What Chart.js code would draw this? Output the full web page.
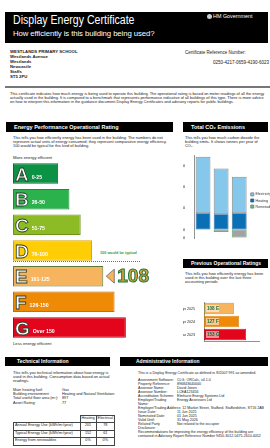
<!DOCTYPE html>
<html>
<head>
<meta charset="utf-8">
<script src="https://cdn.jsdelivr.net/npm/chart.js@4.4.1/dist/chart.umd.min.js"></script>
<style>
  body { margin:0; width:270px; height:448px; position:relative; background:#fff; overflow:hidden;
         font-family:'Liberation Sans', Arial, sans-serif; color:#222; }
  .abs { position:absolute; }
  .blk { position:absolute; background:#000; color:#fff; font-weight:bold; white-space:nowrap; }
  .small { font-size:3.9px; line-height:4.2px; }
  canvas { position:absolute; }
  table { border-collapse:collapse; }
  td { padding:0; vertical-align:top; }
  .et td { border:0.6px solid #444; padding:0 1px; height:6.4px; font-size:3.8px; }
</style>
</head>
<body>
<div class="blk" style="left:5px;top:12px;width:263px;height:31px;"></div>
<div class="abs" style="left:13px;top:13px;font-size:12px;color:#fff;white-space:nowrap;transform:scaleX(0.88);transform-origin:0 0;">Display Energy Certificate</div>
<div class="abs" style="left:13px;top:29px;font-size:7.8px;letter-spacing:-0.1px;color:#fff;">How efficiently is this building being used?</div>
<div class="abs" style="left:207px;top:13px;font-size:5.4px;color:#fff;white-space:nowrap;"><span style="display:inline-block;width:5px;height:5px;border-radius:50%;background:#ccc;vertical-align:-1px;margin-right:1px;"></span>HM Government</div>

<div class="abs" style="left:10px;top:50px;font-size:4.3px;line-height:4.9px;font-weight:bold;">
  WESTLANDS PRIMARY SCHOOL<br>Westlands Avenue<br>Westlands<br>Newcastle<br>Staffs<br>ST5 2PU<br>&nbsp;
</div>
<div class="abs" style="left:185px;top:50px;font-size:4.5px;line-height:5px;white-space:nowrap;">Certificate Reference Number:</div>
<div class="abs" style="left:213px;top:60px;font-size:4.5px;white-space:nowrap;">0250-4217-0659-4190-6023</div>
<div class="abs" style="left:5px;top:86px;width:265px;height:2px;background:#777;"></div>

<div class="abs small" style="left:10px;top:92px;width:258px;">This certificate indicates how much energy is being used to operate this building. The operational rating is based on meter readings of all the energy actually used in the building. It is compared to a benchmark that represents performance indicative of all buildings of this type. There is more advice on how to interpret this information in the guidance document Display Energy Certificates and advisory reports for public buildings.</div>

<div class="blk" style="left:6px;top:122px;width:159px;height:10px;line-height:10px;font-size:5.5px;padding-left:8px;">Energy Performance Operational Rating</div>
<div class="blk" style="left:183px;top:122px;width:77px;height:10px;line-height:10px;font-size:5.5px;padding-left:8px;">Total CO₂ Emissions</div>

<div class="abs small" style="left:13px;top:136px;width:160px;">This tells you how efficiently energy has been used in the building. The numbers do not represent actual units of energy consumed; they represent comparative energy efficiency. 100 would be typical for this kind of building.</div>
<div class="abs" style="left:13px;top:155px;font-size:4.2px;">More energy efficient</div>
<div class="abs" style="left:100px;top:251px;font-size:3.8px;font-weight:bold;color:#2e9b4a;white-space:nowrap;">100 would be typical</div>
<div class="abs" style="left:13px;top:261px;width:127px;border-top:1px dotted #2e9b4a;"></div>
<div class="abs" style="left:13px;top:341px;font-size:4.2px;">Less energy efficient</div>

<div class="abs small" style="left:185px;top:136px;width:80px;">This tells you how much carbon dioxide the building emits. It shows tonnes per year of CO₂.</div>

<div class="blk" style="left:183px;top:259px;width:77px;height:9px;line-height:9px;font-size:5px;padding-left:8px;">Previous Operational Ratings</div>
<div class="abs small" style="left:185px;top:272px;width:80px;">This tells you how efficiently energy has been used in this building over the last three accounting periods</div>

<canvas id="ratingChart" width="183" height="195" style="left:0;top:150px;"></canvas>
<canvas id="co2Chart" width="87" height="96" style="left:183px;top:150px;"></canvas>
<canvas id="prevChart" width="87" height="52" style="left:183px;top:298px;"></canvas>

<div class="blk" style="left:5px;top:357px;width:93px;height:9px;line-height:9px;font-size:5px;padding-left:12px;">Technical Information</div>
<div class="blk" style="left:120px;top:357px;width:132px;height:9px;line-height:9px;font-size:5px;padding-left:16px;">Administrative Information</div>

<div class="abs small" style="left:13px;top:371px;width:102px;">This tells you technical information about how energy is used in this building. Consumption data based on actual readings.</div>
<table class="abs" style="left:13px;top:388px;font-size:3.8px;line-height:4.2px;">
  <tr><td style="width:49px;">Main heating fuel:</td><td>Gas</td></tr>
  <tr><td>Building environment:</td><td>Heating and Natural Ventilation</td></tr>
  <tr><td>Total useful floor area (m²):</td><td>897</td></tr>
  <tr><td>Asset Rating:</td><td>77</td></tr>
</table>
<table class="abs et" style="left:13px;top:415px;width:102px;">
  <tr><td style="border:none;"></td><td style="width:13px;">Heating</td><td style="width:13px;">Electrical</td></tr>
  <tr><td>Annual Energy Use (kWh/m²/year)</td><td style="text-align:center;">201</td><td style="text-align:center;">78</td></tr>
  <tr><td>Typical Energy Use (kWh/m²/year)</td><td style="text-align:center;">152</td><td style="text-align:center;">61</td></tr>
  <tr><td>Energy from renewables</td><td style="text-align:center;">0%</td><td style="text-align:center;">0%</td></tr>
</table>

<div class="abs" style="left:138px;top:371px;width:130px;font-size:3.6px;line-height:4px;">
  This is a Display Energy Certificate as defined in SI2007:991 as amended.
  <table style="margin-top:3px;font-size:3.6px;line-height:4px;">
    <tr><td style="width:39px;">Assessment Software:</td><td>CLG, ORCalc, v4.1.0</td></tr>
    <tr><td>Property Reference:</td><td>896843640000</td></tr>
    <tr><td>Assessor Name:</td><td>David Jones</td></tr>
    <tr><td>Assessor Number:</td><td>LCEA123456</td></tr>
    <tr><td>Accreditation Scheme:</td><td>Elmhurst Energy Systems Ltd</td></tr>
    <tr><td>Employer/Trading Name:</td><td>Energy Assessors Ltd</td></tr>
    <tr><td colspan="2">Employer/Trading Address: 12 Market Street, Stafford, Staffordshire, ST16 2AB</td></tr>
    <tr><td>Issue Date:</td><td>11 Jun 2025</td></tr>
    <tr><td>Nominated Date:</td><td>01 Jun 2025</td></tr>
    <tr><td>Valid Until:</td><td>31 May 2026</td></tr>
    <tr><td>Related Party Disclosure:</td><td>Not related to the occupier</td></tr>
    <tr><td colspan="2">Recommendations for improving the energy efficiency of the building are contained in Advisory Report Reference Number 9450-3012-0475-2610-4052</td></tr>
  </table>
</div>

<script>
// rating bands (A..G)
const bandLetters = ['A', 'B', 'C', 'D', 'E', 'F', 'G'];
const bandRanges = ['0-25', '26-50', '51-75', '76-100', '101-125', '126-150', 'Over 150'];
const bandLengths = [4, 5, 6, 7, 8, 9, 10];
const bandLimits = [25, 50, 75, 100, 125, 150];
const currentRating = 108;

// CO2 emissions chart
const co2Years = ['Mar 2025', 'Apr 2024', 'Apr 2023'];
const co2Heating = [38, 36, 38];
const co2Electricity = [133, 107, 86];
const co2Renewables = [0, -6, -19];
const co2Ticks = [-20, 0, 50, 100, 150];

// previous ratings
const prevYears = ['Apr 2025', 'Apr 2024', 'Mar 2023'];
const prevRatings = [108, 127, 153];

const bandColors = ['#0c9244', '#2bb24c', '#8dbb25', '#ffcd05', '#f7b45f', '#ef8a07', '#e2051b'];
const bandBorders = ['#0a6b33', '#1d8a3a', '#6d9418', '#d9a800', '#5b7a3a', '#c86f00', '#b00012'];

Chart.defaults.font.family = "'Liberation Sans', Arial, sans-serif";
Chart.defaults.color = '#333';

const bandOf = v => {
  let i = bandLimits.findIndex(l => v <= l);
  return i < 0 ? bandLimits.length : i;
};

// letters, ranges and current rating arrow on the A-G bars
const bandLabels = {
  id: 'bandLabels',
  afterDatasetsDraw(chart) {
    const ctx = chart.ctx;
    const meta = chart.getDatasetMeta(0);
    ctx.save();
    meta.data.forEach((bar, i) => {
      const left = bar.base;
      const top = bar.y - bar.height / 2;
      ctx.font = 'bold 19px "Liberation Sans", Arial, sans-serif';
      ctx.textBaseline = 'alphabetic';
      ctx.lineWidth = 0.8;
      ctx.fillStyle = '#fff';
      ctx.strokeStyle = '#2a3a2a';
      ctx.fillText(bandLetters[i], left + 2, top + bar.height - 3);
      ctx.strokeText(bandLetters[i], left + 2, top + bar.height - 3);
      const lw = ctx.measureText(bandLetters[i]).width;
      ctx.font = 'bold 5.2px "Liberation Sans", Arial, sans-serif';
      ctx.fillStyle = '#fff';
      ctx.fillText(bandRanges[i], left + 5 + lw, top + bar.height - 5);
    });
    // arrow
    const b = meta.data[bandOf(currentRating)];
    const tip = b.x + 3, cy = b.y;
    ctx.beginPath();
    ctx.moveTo(tip, cy);
    ctx.lineTo(tip + 8, cy - 7);
    ctx.lineTo(tip + 8, cy + 7);
    ctx.closePath();
    ctx.fillStyle = bandColors[bandOf(currentRating)];
    ctx.fill();
    ctx.strokeStyle = '#555';
    ctx.lineWidth = 0.7;
    ctx.stroke();
    ctx.font = 'bold 19px "Liberation Sans", Arial, sans-serif';
    ctx.textBaseline = 'middle';
    ctx.fillStyle = '#e3a03a';
    ctx.strokeStyle = '#1e7a3c';
    ctx.lineWidth = 1;
    ctx.fillText(String(currentRating), tip + 11, cy + 1);
    ctx.strokeText(String(currentRating), tip + 11, cy + 1);
    ctx.restore();
  }
};

new Chart(document.getElementById('ratingChart'), {
  type: 'bar',
  data: {
    labels: bandLetters,
    datasets: [{
      data: bandLengths,
      backgroundColor: bandColors,
      borderColor: bandBorders,
      borderWidth: 1,
      borderSkipped: false,
      barPercentage: 0.8,
      categoryPercentage: 1
    }]
  },
  options: {
    indexAxis: 'y',
    responsive: false,
    animation: false,
    layout: { padding: { left: 13, right: 12, top: 10.7, bottom: 4.7 } },
    plugins: { legend: { display: false }, tooltip: { enabled: false } },
    scales: {
      x: { display: false, min: 0, max: 14 },
      y: { display: false }
    }
  },
  plugins: [bandLabels]
});

const legendOrder = ['Electricity', 'Heating', 'Renewables'];
new Chart(document.getElementById('co2Chart'), {
  type: 'bar',
  data: {
    labels: co2Years,
    datasets: [
      { label: 'Heating', data: co2Heating, backgroundColor: '#0b6fb6', borderColor: '#1b5f8f', borderWidth: 0.8 },
      { label: 'Electricity', data: co2Electricity, backgroundColor: '#86c8ec', borderColor: '#8a8a8a', borderWidth: 1 },
      { label: 'Renewables', data: co2Renewables, backgroundColor: '#a2a2a2', borderColor: '#2e9b4a', borderWidth: 0.8 }
    ]
  },
  options: {
    responsive: false,
    animation: false,
    datasets: { bar: { barPercentage: 0.82, categoryPercentage: 1, borderSkipped: false } },
    layout: { padding: { top: 5, left: 0, right: 0, bottom: 0 } },
    plugins: {
      tooltip: { enabled: false },
      legend: {
        position: 'right',
        labels: {
          boxWidth: 3, boxHeight: 3, padding: 2.5,
          font: { size: 3.6 }, color: '#333',
          sort: (a, b) => legendOrder.indexOf(a.text) - legendOrder.indexOf(b.text)
        }
      }
    },
    scales: {
      x: {
        stacked: true,
        grid: { display: false },
        border: { display: false },
        ticks: { font: { size: 3.8 }, color: '#222', padding: 1, maxRotation: 0, autoSkip: false },
        afterFit: s => { s.height = 8; }
      },
      y: {
        stacked: true,
        min: -20, max: 175,
        grid: { display: false },
        border: { display: true, color: '#777', width: 0.8 },
        ticks: { font: { size: 3.8 }, color: '#222', padding: 1 },
        afterBuildTicks: a => { a.ticks = co2Ticks.map(v => ({ value: v })); },
        afterFit: s => { s.width = 11; }
      }
    }
  }
});

// value + band letter inside previous rating bars
const prevLabels = {
  id: 'prevLabels',
  afterDatasetsDraw(chart) {
    const ctx = chart.ctx;
    ctx.save();
    chart.getDatasetMeta(0).data.forEach((bar, i) => {
      const v = prevRatings[i];
      const x = bar.base + 2;
      ctx.fillStyle = 'rgba(255,255,255,0.55)';
      ctx.fillRect(x, bar.y - 3.5, 13, 7);
      ctx.font = 'bold 4.6px "Liberation Sans", Arial, sans-serif';
      ctx.textBaseline = 'middle';
      ctx.fillStyle = '#1e6e36';
      ctx.fillText(v + ' ' + bandLetters[bandOf(v)], x + 1, bar.y + 0.3);
    });
    ctx.restore();
  }
};

new Chart(document.getElementById('prevChart'), {
  type: 'bar',
  data: {
    labels: prevYears,
    datasets: [{
      data: prevRatings,
      backgroundColor: prevRatings.map(v => bandColors[bandOf(v)]),
      borderColor: prevRatings.map(v => bandBorders[bandOf(v)]),
      borderWidth: 0.7,
      borderSkipped: false,
      barPercentage: 0.88,
      categoryPercentage: 1
    }]
  },
  options: {
    indexAxis: 'y',
    responsive: false,
    animation: false,
    layout: { padding: { top: 4, left: 0, right: 11, bottom: 0 } },
    plugins: { legend: { display: false }, tooltip: { enabled: false } },
    scales: {
      x: {
        min: 0, max: 200,
        grid: { display: false },
        border: { display: true, color: '#777', width: 0.8 },
        ticks: { stepSize: 50, font: { size: 3.6 }, color: '#222', padding: 1 },
        afterFit: s => { s.height = 9; }
      },
      y: {
        grid: { display: false },
        border: { display: true, color: '#777', width: 0.8 },
        ticks: { font: { size: 3.6 }, color: '#222', padding: 1 },
        afterFit: s => { s.width = 21; }
      }
    }
  },
  plugins: [prevLabels]
});
</script>
</body>
</html>
